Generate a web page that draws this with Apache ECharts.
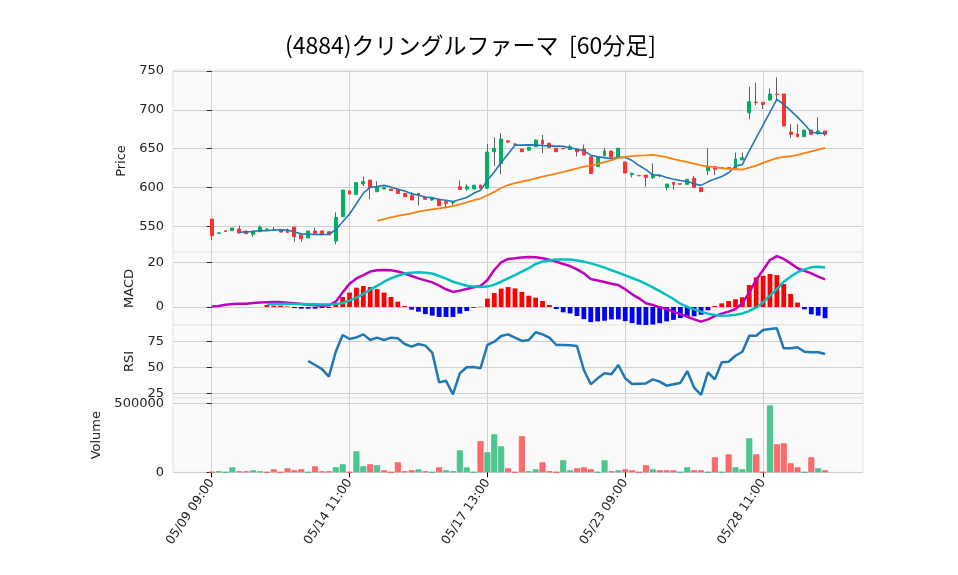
<!DOCTYPE html>
<html><head><meta charset="utf-8">
<script src="https://cdn.jsdelivr.net/npm/echarts@6/dist/echarts.min.js"></script>
<style>html,body{margin:0;padding:0;background:#fff}#c{width:958px;height:575px}</style>
</head><body><div id="c"></div>
<script>
const titleText = '(4884)クリングルファーマ  [60分足]';
const tickIndex = [0, 20, 40, 60, 80];
const tickLabels = ['05/09 09:00', '05/14 11:00', '05/17 13:00', '05/23 09:00', '05/28 11:00'];

const open = [559.4,540.8,544.2,544.4,546.5,544,539.6,543,546,545.5,545,545,549,539,535,544,544,543,531,562.4,
595.5,591,604.5,609.6,594.6,598,598,597.6,592.4,589.4,592.4,587.3,583.9,585,581.7,580,601,598,598,603.2,
599,646,631,660,656,649.5,648,652.5,661,657,650.5,650.2,649,649.5,649.5,639.6,626.8,641,647,639,
632.8,616.5,615.5,616,612.6,615.5,600,606.7,604.7,604,611.8,600,621.6,626.8,624.5,625.5,625,635.4,696.3,710,
709.7,712.6,720.3,720.4,671.4,668.9,665.4,674,669.8,672.7];
const close = [537.9,541.5,543.2,547.8,541.4,540.5,544,549,546.3,545.9,542.6,542.2,536.6,534,544,541,540.5,539,561.5,596.7,
591.6,606.2,607.5,599.5,600.5,600,596,592.4,588,583.9,590,584.8,587.3,576.5,579.6,581,597.6,601,603,599,
645.6,650.5,662.4,658.5,655.5,646,651.7,661,656,651.7,646,649.8,652.5,646,641.8,618,639.6,647,639,650.5,
618.6,618.2,615,613,617,615,604.5,604,604.3,610.5,600,594.6,626.8,623.4,625.5,624.8,636.7,638.4,710.5,709.5,
707,720.4,719.8,679.2,668.5,665.4,674,668.5,672.7,668.5];
const low = [532.4,540,543,544.4,541,540,536,543,545,545,542,541,530,530,535,541,540,539,527,562,
591,591,602,585,594,598,596,592,588,583.9,577,584.8,583,576.5,573,576,597,596,598,599,
598,627.7,617,657,655,646,647,652.5,644,651.7,646,649.5,648.5,640,641.8,618,626.8,641,639,638,
618.6,613,615,601,611,613,596,597,604.3,604,600,594.6,616,616,624.5,624,625,635.4,687.8,706,
701,712.6,712.6,679.2,663.3,665.4,665.4,668.5,667.6,666];
const high = [559.4,542,544.5,547.8,551,544,544,551,548,549,545,547,549,539,544,548,544,543,568,597,
596,606.2,614,609.6,608,600.2,598,598,592.4,594,592.4,587.3,588,585,581.7,581,609,604,603,603.2,
656,664.6,670,661,657,649.5,652,662,667.6,657,650.5,650.5,655,649.5,655,639.6,639.6,651,647,650.5,
632.8,619,615.5,616,631,617,604.5,606.7,604.7,610.5,615,600,650.5,626.8,625.5,626,645,645,729.8,735,
709.7,727.7,741.9,720.4,681.7,681.7,674,674,690.4,672.7];
const volume = [2000,7000,500,36000,7000,7000,14500,7000,500,21700,500,29000,14500,21700,500,43500,7000,7000,36000,58000,
1000,152000,43500,58000,50700,14500,500,72000,7000,14500,21700,7000,500,36000,14500,7000,159000,36000,500,225000,
145000,275000,188000,29000,500,261000,7000,21700,72000,7000,500,87000,14500,29000,36000,21700,500,87000,7000,14500,
21700,14500,500,50700,21700,14500,14500,14500,500,36000,14500,14500,500,108700,500,130000,36000,21700,246000,130000,
500,485000,203000,210000,65000,36000,500,108700,29000,14500];
const macdLine = [0.2,0.45,1.05,1.35,1.5,1.5,1.8,2.0,2.1,2.2,2.2,1.95,1.65,1.35,1.05,0.8,0.6,0.75,2.4,6.6,
10.5,12.9,14.4,16,16.6,16.7,16.6,16,15.1,14,12.9,12,11.1,9.6,8,6.8,7.4,8.1,8.9,9.5,
12.2,16.7,20.2,21.7,22,22.4,22.6,22.5,22,21.3,20.5,19.4,18.5,17,15.2,12.6,12,11.3,10.5,9.9,
8,5.7,3.9,1.65,0.9,-0.15,-0.9,-2.1,-3.2,-4.4,-5.6,-6.6,-5.6,-4.1,-3,-2.1,-0.9,1.65,6.6,12.2,
16.7,21.2,23,21.7,19.7,17.5,16.3,15.2,13.7,12.5];
const signalLine = [null,null,null,null,null,null,null,null,1.2,1.3,1.35,1.35,1.35,1.3,1.2,1.2,1.1,1.2,1.35,1.8,
2.9,4.2,5.9,7.8,9.5,11.4,12.9,14.1,15.1,15.5,15.7,15.5,15.1,14,12.8,11.4,10.5,9.6,9.2,9,
9.2,10.1,11.4,12.9,14.4,16,17.5,19.4,20.5,21,21.5,21.5,21.4,21,20.5,19.7,18.8,17.8,16.6,15.5,
14.3,13.1,11.9,10.4,8.9,7.2,5.4,3.6,1.5,0,-1.1,-2.1,-3,-3.6,-3.9,-3.8,-3.5,-2.9,-1.8,-0.3,
2.1,5.1,8.1,11.4,13.7,15.7,17,17.9,18.2,17.8];
const histBars = [null,null,null,null,null,null,null,null,0.9,0.6,0.6,0.2,-0.45,-0.75,-0.75,-0.75,-0.45,-0.45,0.9,4.5,
6.5,8.7,9.5,9,8.1,6.5,4.5,2.4,0.45,-1.2,-2.1,-3.2,-3.9,-4.5,-4.5,-4.5,-3,-1.8,-0.3,0.1,
3.8,6.3,8.3,9,8.4,6.8,5.1,4.2,2.7,0.9,-0.9,-2.4,-2.9,-4.1,-5.5,-6.8,-6.5,-6.2,-5.6,-5.6,
-6.4,-7.3,-8,-8.3,-7.9,-7.3,-6.5,-5.8,-5,-4.4,-4.2,-3.5,-1.5,0.45,1.65,2.7,3.5,4.4,9.9,13.4,
14.1,14.9,14.4,10.4,5.9,2,-1.05,-3.3,-3.9,-5.1];
const rsiLine = [null,null,null,null,null,null,null,null,null,null,null,null,null,null,56.3,52.4,48.5,41.1,65.3,81.5,
77.6,79.2,82.1,76.6,78.9,76.6,78.9,78.3,72.8,70.2,72.8,71.2,64.4,35.6,37.2,24,44.4,50.2,50.5,49.2,
71.8,75,80.5,82.1,78.9,75.7,76.6,84.1,82.1,78.9,71.8,71.8,71.5,70.8,47.6,33.7,39.5,44.4,43.4,52.4,
39.5,34,34.3,34.6,38.5,36.3,32.4,33.7,35,46.6,30.4,23.4,45.3,38.5,55,55.6,61.4,65.3,80.8,80.8,
86.3,87.3,88,68.6,68.6,69.6,65.3,64.7,64.7,63.1];

const priceTicks = [550, 600, 650, 700, 750];
const macdTicks = [0, 20];
const rsiTicks = [25, 50, 75];
const volTicks = [0, 500000];

const UP = '#00b060', DOWN = '#fe3032', WICK = '#606060';
const VUP = '#4dc790', VDOWN = '#fd6b6c';
const FONT = 'DejaVu Sans';

function sma(arr, n) {
  const out = [];
  for (let i = n - 1; i < arr.length; i++) {
    let s = 0;
    for (let j = i - n + 1; j <= i; j++) s += arr[j];
    out.push([i, s / n]);
  }
  return out;
}
const idx = close.map((_, i) => i);
const wickData = idx.map(i => [i, open[i], close[i], low[i], high[i]]);
const bodyData = idx.map(i => [i, open[i], close[i], Math.min(open[i], close[i]), Math.max(open[i], close[i])]);
const volData = idx.map(i => {
  const up = i === 0 ? close[i] >= open[i] : close[i] >= close[i - 1];
  return { value: [i, volume[i]], itemStyle: { color: up ? VUP : VDOWN, borderColor: up ? '#3fbd84' : '#fb5a5b' } };
});
const histData = idx.filter(i => histBars[i] !== null).map(i => ({
  value: [i, histBars[i]], itemStyle: { color: histBars[i] >= 0 ? '#ff0000' : '#0000ff' }
}));
const toLine = arr => idx.filter(i => arr[i] !== null).map(i => [i, arr[i]]);

const XMIN = -5.616, XMAX = 94.5;
const gridDefs = [
  { top: 70, height: 182 },
  { top: 252, height: 73 },
  { top: 325, height: 73 },
  { top: 398, height: 74.3 }
];
const grids = gridDefs.map(g => ({
  left: 173, right: 95, top: g.top, height: g.height,
  show: true, backgroundColor: '#fafafa', borderColor: '#e4e4e4', borderWidth: 1
}));
const xAxes = gridDefs.map((g, k) => ({
  type: 'value', gridIndex: k, min: XMIN, max: XMAX,
  axisLine: { show: false },
  axisTick: { show: k === 3, customValues: tickIndex, length: 5, lineStyle: { color: '#000', width: 1 } },
  axisLabel: {
    show: k === 3, customValues: tickIndex, rotate: 56, margin: 8,
    fontFamily: FONT, fontSize: 12.5, color: '#222',
    formatter: v => { const j = tickIndex.indexOf(Math.round(v)); return j >= 0 ? tickLabels[j] : ''; }
  },
  splitLine: { show: true, lineStyle: { color: '#d0d0d0', width: 1 } }
}));
function yAx(k, min, max, ticks, name, gap) {
  return {
    type: 'value', gridIndex: k, min: min, max: max,
    name: name, nameLocation: 'middle', nameGap: gap,
    nameTextStyle: { fontFamily: FONT, fontSize: 13, color: '#222' },
    axisLine: { show: false },
    axisTick: { show: true, customValues: ticks, length: 5, lineStyle: { color: '#222', width: 1 } },
    axisLabel: { customValues: ticks, fontFamily: FONT, fontSize: 13, color: '#222', margin: 9,
      formatter: v => String(v) },
    splitLine: { show: true, lineStyle: { color: '#d0d0d0', width: 1 } }
  };
}
const yAxes = [
  yAx(0, 516.9, 751.3, priceTicks, 'Price', 38),
  yAx(1, -8.13, 24.83, macdTicks, 'MACD', 29),
  yAx(2, 20.45, 91.18, rsiTicks, 'RSI', 29),
  yAx(3, 0, 538400, volTicks, 'Volume', 64)
];

const option = {
  animation: false,
  backgroundColor: '#ffffff',
  title: {
    text: titleText, left: 280, top: 29,
    textStyle: { fontFamily: 'Noto Sans CJK JP', fontSize: 23, fontWeight: 'normal', color: '#000' }
  },
  grid: grids, xAxis: xAxes, yAxis: yAxes,
  series: [
    { type: 'candlestick', xAxisIndex: 0, yAxisIndex: 0, data: wickData, encode: { x: 0, y: [1, 2, 3, 4] },
      barWidth: 0.1, itemStyle: { color: WICK, color0: WICK, borderColor: WICK, borderColor0: WICK, borderWidth: 1 } },
    { type: 'candlestick', xAxisIndex: 0, yAxisIndex: 0, data: bodyData, encode: { x: 0, y: [1, 2, 3, 4] },
      barWidth: 3.4, itemStyle: { color: UP, color0: DOWN, borderColor: UP, borderColor0: DOWN, borderWidth: 1 } },
    { type: 'line', xAxisIndex: 0, yAxisIndex: 0, data: sma(close, 5), showSymbol: false,
      lineStyle: { color: '#1f77b4', width: 1.6 } },
    { type: 'line', xAxisIndex: 0, yAxisIndex: 0, data: sma(close, 25), showSymbol: false,
      lineStyle: { color: '#ff7f0e', width: 1.8 } },
    { type: 'bar', xAxisIndex: 1, yAxisIndex: 1, data: histData, barWidth: 4.8 },
    { type: 'line', xAxisIndex: 1, yAxisIndex: 1, data: toLine(macdLine), showSymbol: false,
      lineStyle: { color: '#bf00bf', width: 2.5 } },
    { type: 'line', xAxisIndex: 1, yAxisIndex: 1, data: toLine(signalLine), showSymbol: false,
      lineStyle: { color: '#00bfbf', width: 2.5 } },
    { type: 'line', xAxisIndex: 2, yAxisIndex: 2, data: toLine(rsiLine), showSymbol: false,
      lineStyle: { color: '#1f77b4', width: 2.5 } },
    { type: 'bar', xAxisIndex: 3, yAxisIndex: 3, data: volData, barWidth: 6,
      itemStyle: { borderWidth: 0.8 } }
  ]
};
const chart = echarts.init(document.getElementById('c'), null, { renderer: 'canvas' });
chart.setOption(option);
</script></body></html>
